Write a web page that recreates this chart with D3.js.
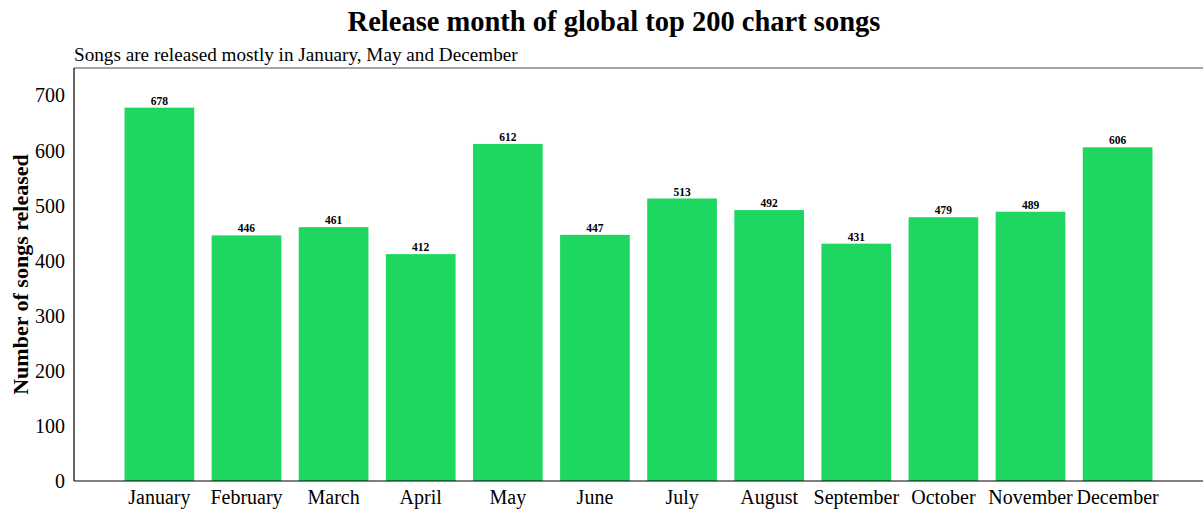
<!DOCTYPE html>
<html>
<head>
<meta charset="utf-8">
<script src="https://cdn.jsdelivr.net/npm/d3@7"></script>
<style>
  html, body { margin: 0; padding: 0; background: #fff; }
  svg text { font-family: "Liberation Serif", "Times New Roman", serif; fill: #000; }
</style>
</head>
<body>
<svg id="chart" width="1203" height="510"></svg>
<script>
// Songs in the global top 200 chart, grouped by release month
const months = ["January", "February", "March", "April", "May", "June",
                "July", "August", "September", "October", "November", "December"];
const songCounts = [678, 446, 461, 412, 612, 447, 513, 492, 431, 479, 489, 606];
const yTicks = [0, 100, 200, 300, 400, 500, 600, 700];

const chartTitle = "Release month of global top 200 chart songs";
const chartSubtitle = "Songs are released mostly in January, May and December";
const yLabel = "Number of songs released";

const svg = d3.select("#chart");
const W = 1203, H = 510;
const margin = { left: 74, right: 0, top: 68, bottom: 29 };
const plotBottom = H - margin.bottom;   // 481
const plotRight = W - margin.right;

const x = d3.scaleBand()
  .domain(months)
  .range([margin.left, plotRight])
  .paddingInner(0.2)
  .paddingOuter(0.58);

const y = d3.scaleLinear()
  .domain([0, 750])
  .range([plotBottom, margin.top]);

const rows = months.map((m, i) => ({ month: m, value: songCounts[i] }));

// Bars
svg.append("g")
  .selectAll("rect")
  .data(rows)
  .join("rect")
  .attr("x", d => x(d.month))
  .attr("y", d => y(d.value))
  .attr("width", x.bandwidth())
  .attr("height", d => y(0) - y(d.value))
  .attr("fill", "#1ED760");

// Value labels above bars
svg.append("g")
  .selectAll("text")
  .data(rows)
  .join("text")
  .attr("x", d => x(d.month) + x.bandwidth() / 2)
  .attr("y", d => y(d.value) - 3)
  .attr("text-anchor", "middle")
  .attr("font-size", 11.5)
  .attr("font-weight", "bold")
  .text(d => d.value);

// Y axis
const yAxis = svg.append("g")
  .attr("transform", `translate(${margin.left},0)`)
  .call(d3.axisLeft(y).tickValues(yTicks).tickSize(0).tickPadding(9));
yAxis.select(".domain").remove();
yAxis.selectAll("text")
  .attr("font-size", 20)
  .style("font-family", "'Liberation Serif', 'Times New Roman', serif");

// X axis
const xAxis = svg.append("g")
  .attr("transform", `translate(0,${plotBottom})`)
  .call(d3.axisBottom(x).tickSize(0).tickPadding(9));
xAxis.select(".domain").remove();
xAxis.selectAll("text")
  .attr("font-size", 20)
  .style("font-family", "'Liberation Serif', 'Times New Roman', serif");

// Frame: grey top edge, black left and bottom spines
svg.append("line")
  .attr("x1", margin.left).attr("x2", W)
  .attr("y1", margin.top).attr("y2", margin.top)
  .attr("stroke", "#888").attr("stroke-width", 1.5);
svg.append("line")
  .attr("x1", margin.left).attr("x2", margin.left)
  .attr("y1", margin.top).attr("y2", plotBottom)
  .attr("stroke", "#000").attr("stroke-width", 1.2);
svg.append("line")
  .attr("x1", margin.left).attr("x2", W)
  .attr("y1", plotBottom).attr("y2", plotBottom)
  .attr("stroke", "#000").attr("stroke-width", 1.2);

// Title and subtitle
svg.append("text")
  .attr("x", 614).attr("y", 31)
  .attr("text-anchor", "middle")
  .attr("font-size", 28.5)
  .attr("font-weight", "bold")
  .text(chartTitle);

svg.append("text")
  .attr("x", margin.left).attr("y", 61)
  .attr("font-size", 19.2)
  .text(chartSubtitle);

// Y axis title
svg.append("text")
  .attr("transform", `translate(28,${(margin.top + plotBottom) / 2}) rotate(-90)`)
  .attr("text-anchor", "middle")
  .attr("font-size", 22)
  .attr("font-weight", "bold")
  .text(yLabel);
</script>
</body>
</html>
